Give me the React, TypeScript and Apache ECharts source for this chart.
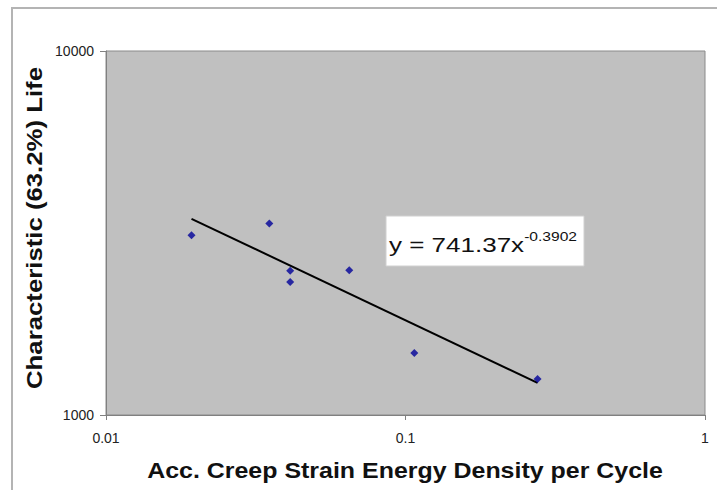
import React, { useEffect, useRef } from "react";
import * as echarts from "echarts";

const energyDensity = [0.0193, 0.0351, 0.0412, 0.0412, 0.0649, 0.107, 0.276];
const characteristicLife = [3120, 3360, 2490, 2320, 2500, 1480, 1255];
const xTickLabels = ["0.01", "0.1", "1"];
const yTickLabels = ["1000", "10000"];
const trendCoef = [741.37, -0.3902];
const trendRange = [0.0193, 0.276];
const xTitle = "Acc. Creep Strain Energy Density per Cycle";
const yTitle = "Characteristic (63.2%) Life";

export default function App() {
  const ref = useRef<HTMLDivElement>(null);
  useEffect(() => {
    if (!ref.current) return;
    const chart = echarts.init(ref.current, undefined, { renderer: "svg" });
    const font = "'Liberation Sans', Arial, sans-serif";
    const trendData = trendRange.map((x) => [x, trendCoef[0] * Math.pow(x, trendCoef[1])]);
    chart.setOption({
      animation: false,
      backgroundColor: "#ffffff",
      grid: {
        left: 106,
        top: 51,
        width: 599,
        height: 364,
        show: true,
        backgroundColor: "#c0c0c0",
        borderColor: "#8a8a8a",
        borderWidth: 1,
      },
      xAxis: {
        type: "log",
        logBase: 10,
        min: 0.01,
        max: 1,
        splitLine: { show: false },
        minorTick: { show: false },
        axisLine: { show: true, lineStyle: { color: "#808080", width: 1 } },
        axisTick: { show: true, length: 5, lineStyle: { color: "#808080" } },
        axisLabel: {
          margin: 16,
          fontSize: 14,
          color: "#222",
          fontFamily: font,
          formatter: (v: number) => xTickLabels[Math.round(Math.log10(v)) + 2] ?? "",
        },
      },
      yAxis: {
        type: "log",
        logBase: 10,
        min: 1000,
        max: 10000,
        splitLine: { show: false },
        minorTick: { show: false },
        axisLine: { show: true, lineStyle: { color: "#808080", width: 1 } },
        axisTick: { show: true, length: 6, lineStyle: { color: "#808080" } },
        axisLabel: {
          margin: 12,
          fontSize: 14,
          color: "#222",
          fontFamily: font,
          formatter: (v: number) => yTickLabels[Math.round(Math.log10(v)) - 3] ?? "",
        },
      },
      series: [
        {
          type: "line",
          data: trendData,
          showSymbol: false,
          symbol: "none",
          lineStyle: { color: "#000", width: 2 },
          z: 2,
        },
        {
          type: "scatter",
          data: energyDensity.map((x, i) => [x, characteristicLife[i]]),
          symbol: "diamond",
          symbolSize: 8,
          itemStyle: { color: "#000099" },
          z: 3,
        },
      ],
      graphic: [
        {
          type: "rect",
          shape: { x: 12, y: 8, width: 720, height: 500 },
          style: { fill: "none", stroke: "#b4b4b4", lineWidth: 2 },
          silent: true,
          z: -1,
        },
        {
          type: "rect",
          shape: { x: 386, y: 216, width: 198, height: 50 },
          style: { fill: "#ffffff", stroke: "#d0d0d0", lineWidth: 1 },
          z: 10,
        },
        {
          type: "text",
          x: 389,
          y: 243,
          scaleX: 1.3,
          z: 11,
          style: {
            text: "{b|y = 741.37x}{s|-0.3902}",
            verticalAlign: "middle",
            rich: {
              b: { fontSize: 20, fontFamily: font, fill: "#111", verticalAlign: "bottom", lineHeight: 24 },
              s: { fontSize: 12, fontFamily: font, fill: "#111", verticalAlign: "top", lineHeight: 24, padding: [0, 0, 10, 0] },
            },
          },
        },
        {
          type: "text",
          x: 405,
          y: 470,
          scaleX: 1.085,
          z: 11,
          style: {
            text: xTitle,
            fontSize: 23,
            fontWeight: "bold",
            fontFamily: font,
            fill: "#111",
            align: "center",
            verticalAlign: "middle",
          },
        },
        {
          type: "text",
          x: 34,
          y: 228,
          rotation: Math.PI / 2,
          scaleX: 1.12,
          z: 11,
          style: {
            text: yTitle,
            fontSize: 23,
            fontWeight: "bold",
            fontFamily: font,
            fill: "#111",
            align: "center",
            verticalAlign: "middle",
          },
        },
      ],
    });
    return () => chart.dispose();
  }, []);
  return (
    <div
      ref={ref}
      style={{ position: "fixed", left: 0, top: 0, width: 717, height: 490 }}
    />
  );
}
